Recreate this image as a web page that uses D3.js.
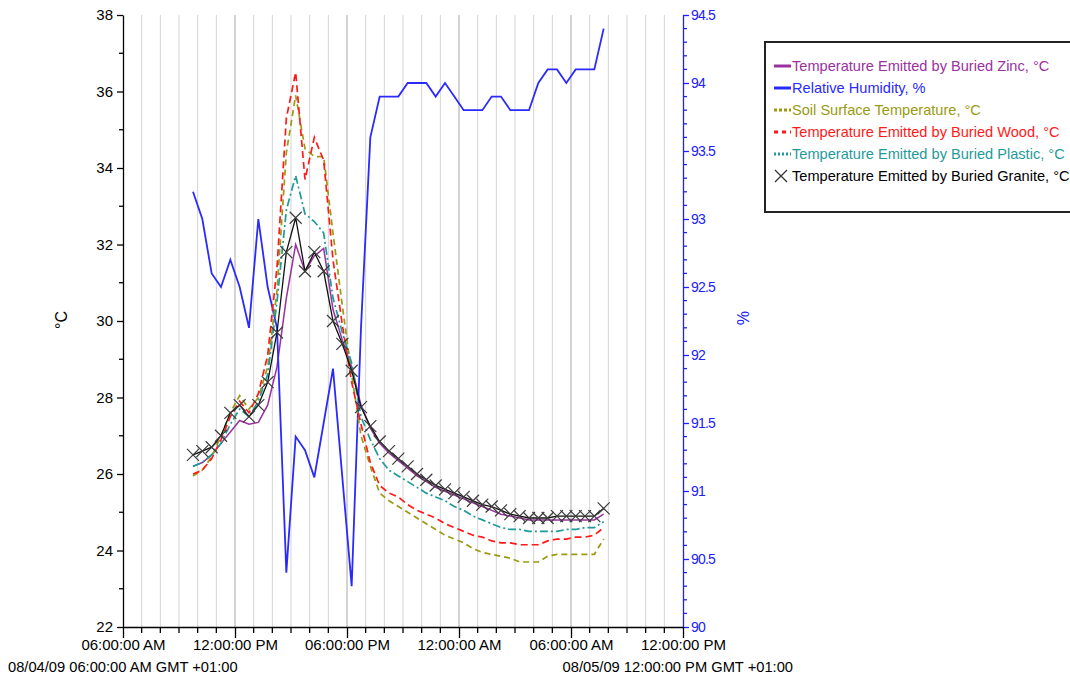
<!DOCTYPE html>
<html>
<head>
<meta charset="utf-8">
<script src="https://d3js.org/d3.v7.min.js"></script>
<style>
body { margin: 0; background: #fff; }
svg { display: block; font-family: "Liberation Sans", Arial, sans-serif; }
.grid { stroke: #d4d4d4; stroke-width: 1; }
.grid.major { stroke: #a8a8a8; }
</style>
</head>
<body>
<svg width="1070" height="679"></svg>
<script>
// readings every 30 minutes, 08/04/09 09:45 to 08/05/09 07:45
const times = [
  "08/04 09:45", "08/04 10:15", "08/04 10:45", "08/04 11:15", "08/04 11:45",
  "08/04 12:15", "08/04 12:45", "08/04 13:15", "08/04 13:45", "08/04 14:15",
  "08/04 14:45", "08/04 15:15", "08/04 15:45", "08/04 16:15", "08/04 16:45",
  "08/04 17:15", "08/04 17:45", "08/04 18:15", "08/04 18:45", "08/04 19:15",
  "08/04 19:45", "08/04 20:15", "08/04 20:45", "08/04 21:15", "08/04 21:45",
  "08/04 22:15", "08/04 22:45", "08/04 23:15", "08/04 23:45", "08/05 00:15",
  "08/05 00:45", "08/05 01:15", "08/05 01:45", "08/05 02:15", "08/05 02:45",
  "08/05 03:15", "08/05 03:45", "08/05 04:15", "08/05 04:45", "08/05 05:15",
  "08/05 05:45", "08/05 06:15", "08/05 06:45", "08/05 07:15", "08/05 07:45"
];

const zinc = [26.2, 26.3, 26.5, 26.8, 27.1, 27.4, 27.3, 27.35, 27.8, 28.8, 30.6, 32.0, 31.3, 31.7, 31.9,
  30.3, 29.5, 28.8, 27.8, 27.2, 26.8, 26.55, 26.35, 26.15, 25.95, 25.8, 25.65, 25.55, 25.45, 25.35,
  25.25, 25.15, 25.05, 24.95, 24.9, 24.85, 24.8, 24.8, 24.8, 24.8, 24.8, 24.8, 24.8, 24.8, 24.95];

const humidity = [93.2, 93.0, 92.6, 92.5, 92.7, 92.5, 92.2, 93.0, 92.5, 92.2, 90.4, 91.4, 91.3, 91.1, 91.5,
  91.9, 91.1, 90.3, 92.2, 93.6, 93.9, 93.9, 93.9, 94.0, 94.0, 94.0, 93.9, 94.0, 93.9, 93.8,
  93.8, 93.8, 93.9, 93.9, 93.8, 93.8, 93.8, 94.0, 94.1, 94.1, 94.0, 94.1, 94.1, 94.1, 94.4];

const soil = [25.95, 26.1, 26.45, 27.0, 27.6, 28.05, 27.7, 28.0, 28.8, 30.8, 34.4, 35.9, 34.5, 34.3, 34.3,
  32.3, 30.4, 28.6, 27.0, 26.2, 25.5, 25.3, 25.15, 25.0, 24.85, 24.7, 24.55, 24.4, 24.3, 24.2,
  24.05, 23.95, 23.9, 23.85, 23.8, 23.7, 23.7, 23.7, 23.85, 23.9, 23.9, 23.9, 23.9, 23.9, 24.3];

const wood = [26.0, 26.1, 26.4, 26.9, 27.5, 27.9, 27.6, 28.1, 29.1, 31.4, 35.3, 36.5, 33.7, 34.8, 34.2,
  31.6, 29.9, 28.4, 27.3, 26.3, 25.7, 25.5, 25.4, 25.2, 25.05, 24.95, 24.85, 24.7, 24.6, 24.5,
  24.4, 24.35, 24.25, 24.2, 24.2, 24.15, 24.15, 24.15, 24.25, 24.3, 24.3, 24.35, 24.35, 24.4, 24.6];

const plastic = [26.2, 26.3, 26.5, 26.8, 27.3, 27.7, 27.5, 27.9, 28.6, 30.5, 32.9, 33.8, 32.8, 32.6, 32.3,
  30.6, 29.7, 28.9, 27.5, 26.9, 26.4, 26.1, 25.95, 25.8, 25.65, 25.5, 25.4, 25.3, 25.15, 25.05,
  24.9, 24.8, 24.7, 24.6, 24.55, 24.55, 24.5, 24.5, 24.5, 24.5, 24.55, 24.55, 24.6, 24.6, 24.75];

const granite = [26.5, 26.6, 26.7, 27.0, 27.6, 27.8, 27.5, 27.8, 28.4, 29.7, 31.8, 32.7, 31.3, 31.8, 31.3,
  30.0, 29.4, 28.7, 27.75, 27.25, 26.85, 26.6, 26.4, 26.2, 26.0, 25.85, 25.7, 25.6, 25.5, 25.4,
  25.3, 25.2, 25.15, 25.05, 24.95, 24.9, 24.85, 24.85, 24.85, 24.9, 24.9, 24.9, 24.9, 24.9, 25.1];

const legendLabels = [
  "Temperature Emitted by Buried Zinc, °C",
  "Relative Humidity, %",
  "Soil Surface Temperature, °C",
  "Temperature Emitted by Buried Wood, °C",
  "Temperature Emitted by Buried Plastic, °C",
  "Temperature Emitted by Buried Granite, °C"
];

const parseTime = d3.timeParse("%Y/%m/%d %H:%M");
const dates = times.map(t => parseTime("2009/" + t));

const svg = d3.select("svg");
const plotLeft = 123, plotRight = 683, plotTop = 15, plotBottom = 627;

const x = d3.scaleTime()
  .domain([parseTime("2009/08/04 06:00"), parseTime("2009/08/05 12:00")])
  .range([plotLeft, plotRight]);
const yT = d3.scaleLinear().domain([22, 38]).range([plotBottom, plotTop]);
const yH = d3.scaleLinear().domain([90, 94.5]).range([plotBottom, plotTop]);

// vertical grid, one line per hour
const hours = x.ticks(d3.timeHour.every(1)).filter(d => x(d) > plotLeft + 1 && x(d) < plotRight - 1);
svg.append("g").selectAll("line")
  .data(hours)
  .join("line")
  .attr("class", d => d.getHours() % 6 === 0 ? "grid major" : "grid")
  .attr("x1", d => x(d)).attr("x2", d => x(d))
  .attr("y1", plotTop).attr("y2", plotBottom);

// left axis
const leftAxis = svg.append("g")
  .attr("transform", `translate(${plotLeft},0)`)
  .call(d3.axisLeft(yT).tickValues(d3.range(22, 39, 2)).tickSize(6).tickPadding(4).tickSizeOuter(0));
leftAxis.append("g").selectAll("line")
  .data(d3.range(23, 38, 2))
  .join("line")
  .attr("x1", -4).attr("x2", 0)
  .attr("y1", d => yT(d)).attr("y2", d => yT(d))
  .attr("stroke", "#000");

// right axis (humidity)
const rightAxis = svg.append("g")
  .attr("transform", `translate(${plotRight},0)`)
  .call(d3.axisRight(yH).tickValues(d3.range(90, 94.51, 0.5)).tickFormat(d3.format("~g"))
    .tickSize(6).tickPadding(2).tickSizeOuter(0));
rightAxis.append("g").selectAll("line")
  .data(d3.range(90.1, 94.5, 0.1).filter(v => Math.abs(v * 2 - Math.round(v * 2)) > 0.01))
  .join("line")
  .attr("x1", 0).attr("x2", 4)
  .attr("y1", d => yH(d)).attr("y2", d => yH(d))
  .attr("stroke", "#2020ff");

// bottom axis
const bottomAxis = svg.append("g")
  .attr("transform", `translate(0,${plotBottom})`)
  .call(d3.axisBottom(x).ticks(d3.timeHour.every(6)).tickFormat(d3.timeFormat("%I:%M:%S %p"))
    .tickSize(11).tickPadding(1).tickSizeOuter(0));
bottomAxis.append("g").selectAll("line")
  .data(x.ticks(d3.timeHour.every(1)).filter(d => d.getHours() % 6 !== 0))
  .join("line")
  .attr("x1", d => x(d)).attr("x2", d => x(d))
  .attr("y1", 0).attr("y2", 6)
  .attr("stroke", "#000");

leftAxis.selectAll("text").attr("font-size", 15).attr("fill", "#000");
leftAxis.selectAll("path, line").attr("stroke", "#000").attr("stroke-width", 1.3);
rightAxis.selectAll("text").attr("font-size", 14).attr("fill", "#2020ff").attr("letter-spacing", -0.8);
rightAxis.selectAll("path, line").attr("stroke", "#2020ff").attr("stroke-width", 1.3);
bottomAxis.selectAll("text").attr("font-size", 15).attr("fill", "#000");
bottomAxis.selectAll("path, line").attr("stroke", "#000").attr("stroke-width", 1.3);

// axis titles and date range
svg.append("text").attr("transform", "translate(67,320) rotate(-90)")
  .attr("text-anchor", "middle").attr("font-size", 16).text("°C");
svg.append("text").attr("transform", "translate(737,318) rotate(90)")
  .attr("text-anchor", "middle").attr("font-size", 16).attr("fill", "#2020ff").text("%");
svg.append("text").attr("x", 8).attr("y", 672).attr("font-size", 14.7)
  .text("08/04/09 06:00:00 AM GMT +01:00");
svg.append("text").attr("x", 793).attr("y", 672).attr("font-size", 14.7).attr("text-anchor", "end")
  .text("08/05/09 12:00:00 PM GMT +01:00");

// series
const series = [
  { values: zinc, y: yT, color: "#9b30a0", dash: null, width: 1.5 },
  { values: humidity, y: yH, color: "#2a2aff", dash: null, width: 1.8 },
  { values: soil, y: yT, color: "#9a9a10", dash: "6,4", width: 1.7 },
  { values: wood, y: yT, color: "#ff1a1a", dash: "7,4", width: 1.7 },
  { values: plastic, y: yT, color: "#1f9a9a", dash: "8,3,2,3", width: 1.7 },
  { values: granite, y: yT, color: "#111", dash: null, width: 1.3 }
];

const plot = svg.append("g");
series.forEach(s => {
  const line = d3.line().x((d, i) => x(dates[i])).y(d => s.y(d));
  plot.append("path")
    .datum(s.values)
    .attr("d", line)
    .attr("fill", "none")
    .attr("stroke", s.color)
    .attr("stroke-width", s.width)
    .attr("stroke-dasharray", s.dash);
});

const cross = 6;
plot.append("g").selectAll("path")
  .data(granite)
  .join("path")
  .attr("d", (d, i) => {
    const cx = x(dates[i]), cy = yT(d);
    return `M${cx - cross},${cy - cross}L${cx + cross},${cy + cross}M${cx - cross},${cy + cross}L${cx + cross},${cy - cross}`;
  })
  .attr("stroke", "#3a3a3a")
  .attr("stroke-width", 1.2)
  .attr("fill", "none");

// legend
const legend = svg.append("g");
legend.append("rect")
  .attr("x", 765).attr("y", 42).attr("width", 320).attr("height", 170)
  .attr("fill", "#fff").attr("stroke", "#222").attr("stroke-width", 2);

const legendDash = [null, null, "3,2", "4,4", "2,2", null];
const legendY = [66, 88, 110, 132, 154, 176];
legendLabels.forEach((label, i) => {
  const s = series[i];
  if (i < 5) {
    legend.append("line")
      .attr("x1", 774).attr("x2", 791)
      .attr("y1", legendY[i]).attr("y2", legendY[i])
      .attr("stroke", s.color).attr("stroke-width", 3)
      .attr("stroke-dasharray", legendDash[i]);
  } else {
    const cx = 781, cy = legendY[i];
    legend.append("path")
      .attr("d", `M${cx - 6},${cy - 6}L${cx + 6},${cy + 6}M${cx - 6},${cy + 6}L${cx + 6},${cy - 6}`)
      .attr("stroke", "#333").attr("stroke-width", 1.3);
  }
  legend.append("text")
    .attr("x", 792).attr("y", legendY[i] + 5)
    .attr("font-size", 14.6)
    .attr("fill", i === 5 ? "#000" : s.color)
    .text(label);
});
</script>
</body>
</html>
